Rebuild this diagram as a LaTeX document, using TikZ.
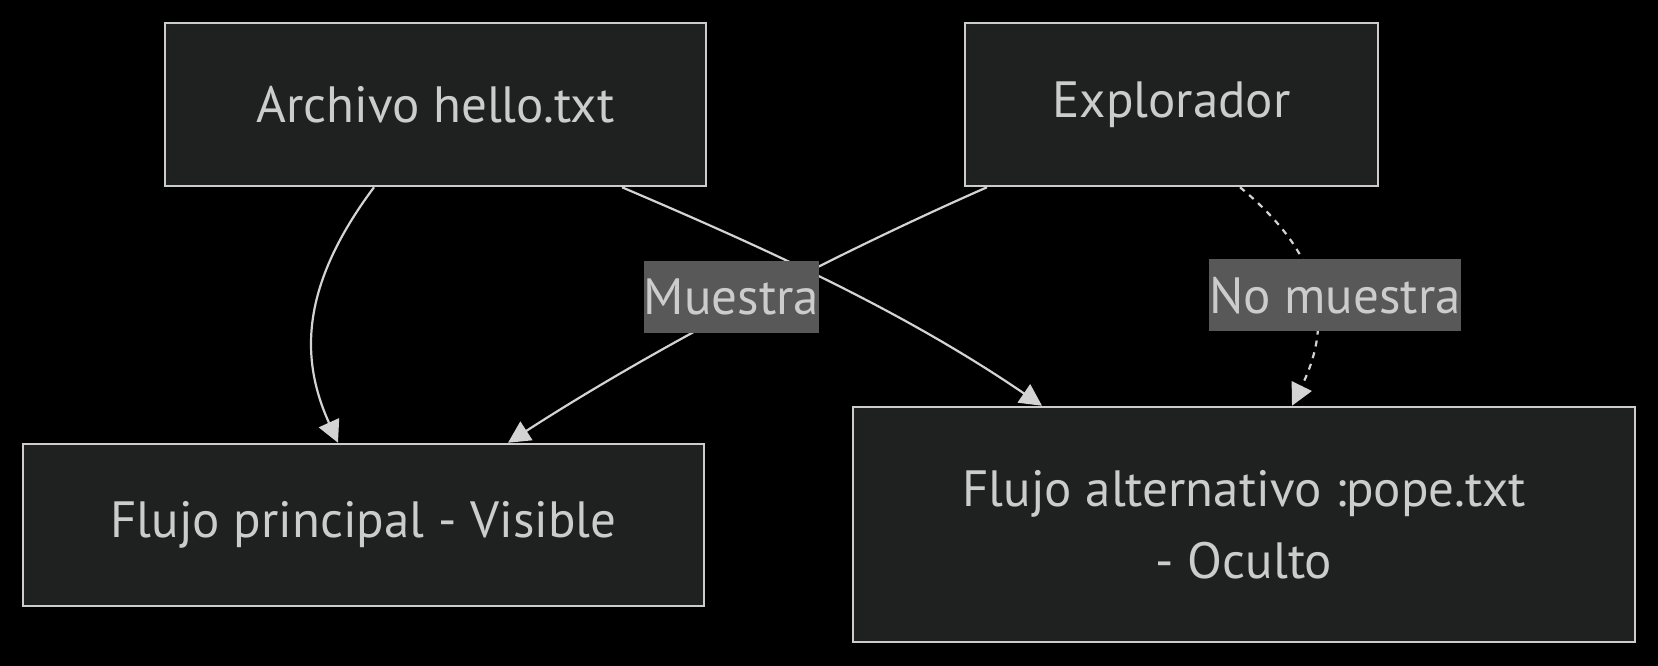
\documentclass[tikz,border=0pt]{standalone}
\usepackage{fontspec}
\setmainfont{PT Sans}
\usetikzlibrary{arrows.meta}
\definecolor{bgc}{HTML}{000000}
\definecolor{nodefill}{HTML}{1F2020}
\definecolor{nodeline}{HTML}{CCCCCC}
\definecolor{txt}{HTML}{CCCCCC}
\definecolor{edgec}{HTML}{D3D3D3}
\definecolor{lblfill}{HTML}{585858}
\tikzset{
  box/.style={draw=nodeline, fill=nodefill, line width=2.5pt, text=txt,
    font=\fontsize{51}{72}\selectfont, align=center, inner sep=0pt},
  conn/.style={draw=edgec, line width=2.2pt,
    -{Triangle[length=22pt,width=22pt]}},
  dotconn/.style={conn, dash pattern=on 6pt off 6pt},
  lbl/.style={fill=lblfill, text=txt, font=\fontsize{51}{60}\selectfont,
    inner xsep=0pt, inner ysep=0pt, minimum height=72pt}
}
\begin{document}
\begin{tikzpicture}[x=1pt,y=-1pt]
\fill[bgc] (0,0) rectangle (1658,666);
\useasboundingbox (0,0) rectangle (1658,666);
\node[box, minimum width=541pt, minimum height=163pt] (a) at (435.5,104.5) {Archivo hello.txt};
\node[box, minimum width=413pt, minimum height=163pt] (e) at (1171.5,104.5) {Explorador};
\node[box, minimum width=681pt, minimum height=162pt] (p) at (363.5,525) {Flujo principal - Visible};
\node[box, minimum width=782pt, minimum height=235pt] (q) at (1244,524.5) {Flujo alternativo :pope.txt\\- Oculto};

\draw[conn] ([xshift=-61.5pt]a.south) .. controls +(-74,99) and +(-38,-84) .. ([xshift=-25.5pt]p.north);
\draw[conn] ([xshift=186.5pt]a.south) .. controls +(138,59) and +(-142,-97) .. ([xshift=-202pt]q.north);
\draw[conn] ([xshift=-184.5pt]e.south) .. controls +(-150,66) and +(150,-97) .. ([xshift=144.5pt]p.north)
  node[lbl, pos=0.5, xshift=-16pt, yshift=6pt] (m1) {Muestra};
\draw[dotconn] ([xshift=68.5pt]e.south) .. controls +(90,74) and +(38,-77) .. ([xshift=48pt]q.north)
  node[lbl, pos=0.5, xshift=21pt] (m2) {No muestra};
\end{tikzpicture}
\end{document}
